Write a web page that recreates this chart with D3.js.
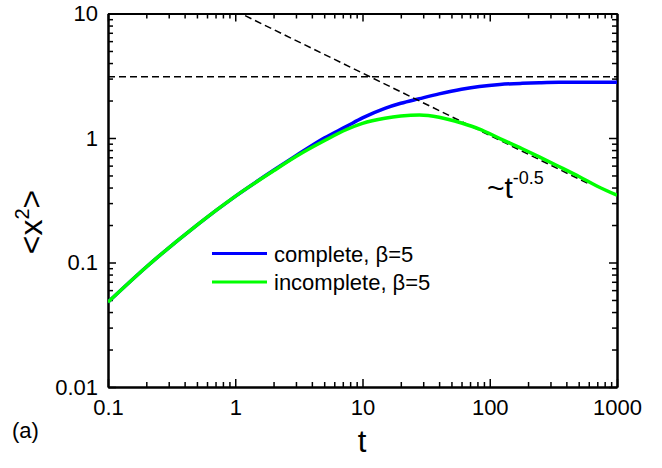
<!DOCTYPE html>
<html>
<head>
<meta charset="utf-8">
<script src="https://cdn.jsdelivr.net/npm/d3@7"></script>
<style>
  body { margin: 0; background: #fff; }
  svg { font-family: "Liberation Sans", Arial, sans-serif; }
</style>
</head>
<body>
<svg id="svg1"></svg>
<script>
    // Data
    const tValues = [0.1, 0.2, 0.5, 1, 2, 3, 5, 7.5, 10, 15, 20, 28, 40, 60, 83, 120, 180, 245, 350, 507, 700, 1000];
    const complete = [0.048, 0.092, 0.2, 0.34, 0.55, 0.72, 1.0, 1.24, 1.45, 1.73, 1.9, 2.07, 2.26, 2.46, 2.59, 2.69, 2.75, 2.78, 2.8, 2.8, 2.81, 2.81];
    const incomplete = [0.048, 0.092, 0.2, 0.34, 0.545, 0.71, 0.95, 1.17, 1.31, 1.44, 1.5, 1.53, 1.47, 1.32, 1.18, 0.99, 0.82, 0.706, 0.59, 0.488, 0.41, 0.347];
    const seriesNames = ["complete, \u03b2=5", "incomplete, \u03b2=5"];
    const xTicks = [0.1, 1, 10, 100, 1000];
    const yTicks = [0.01, 0.1, 1, 10];
    const plateau = 3.1;          // horizontal dashed guide
    const powerLaw = [10.5, -0.5]; // ~ c * t^-0.5 guide
    const guideT = [1, 600];

    const W = 662, H = 468;
    const margin = { top: 13.5, right: 45, bottom: 81, left: 108 },
          width = W - margin.left - margin.right,
          height = H - margin.top - margin.bottom;

    const svg = d3.select("#svg1")
      .attr("width", W)
      .attr("height", H)
      .append("g")
      .attr("transform", `translate(${margin.left},${margin.top})`);

    const x = d3.scaleLog().domain([0.1, 1000]).range([0, width]);
    const y = d3.scaleLog().domain([0.01, 10]).range([height, 0]);

    svg.append("clipPath").attr("id", "clip")
      .append("rect").attr("width", width).attr("height", height);

    const minorX = x.ticks().filter(v => !xTicks.some(m => Math.abs(m - v) < 1e-9));
    const minorY = y.ticks().filter(v => !yTicks.some(m => Math.abs(m - v) < 1e-9));

    // axes on all four sides, ticks pointing in
    function styleAxis(g) {
      g.select(".domain").attr("stroke-width", 2);
      g.selectAll(".tick line").attr("stroke-width", 1.5);
      g.selectAll("text").attr("font-size", 22).attr("fill", "#000");
    }
    const fmt = d => d3.format("~g")(d);

    svg.append("g").attr("transform", `translate(0,${height})`)
      .call(d3.axisBottom(x).tickValues(xTicks).tickFormat(fmt).tickSizeInner(-8).tickSizeOuter(0).tickPadding(12))
      .call(styleAxis);
    svg.append("g").attr("transform", `translate(0,${height})`)
      .call(d3.axisBottom(x).tickValues(minorX).tickFormat("").tickSizeInner(-5).tickSizeOuter(0))
      .call(styleAxis);
    svg.append("g")
      .call(d3.axisTop(x).tickValues(xTicks).tickFormat("").tickSizeInner(-8).tickSizeOuter(0))
      .call(styleAxis);
    svg.append("g")
      .call(d3.axisTop(x).tickValues(minorX).tickFormat("").tickSizeInner(-5).tickSizeOuter(0))
      .call(styleAxis);

    svg.append("g")
      .call(d3.axisLeft(y).tickValues(yTicks).tickFormat(fmt).tickSizeInner(-8).tickSizeOuter(0).tickPadding(10))
      .call(styleAxis);
    svg.append("g")
      .call(d3.axisLeft(y).tickValues(minorY).tickFormat("").tickSizeInner(-5).tickSizeOuter(0))
      .call(styleAxis);
    svg.append("g").attr("transform", `translate(${width},0)`)
      .call(d3.axisRight(y).tickValues(yTicks).tickFormat("").tickSizeInner(-8).tickSizeOuter(0))
      .call(styleAxis);
    svg.append("g").attr("transform", `translate(${width},0)`)
      .call(d3.axisRight(y).tickValues(minorY).tickFormat("").tickSizeInner(-5).tickSizeOuter(0))
      .call(styleAxis);

    // Define the line
    const line = d3.line()
      .x(d => x(d[0]))
      .y(d => y(d[1]))
      .curve(d3.curveMonotoneX);

    const plot = svg.append("g").attr("clip-path", "url(#clip)");

    plot.append("path")
      .datum(tValues.map((t, i) => [t, complete[i]]))
      .attr("fill", "none").attr("stroke", "#0000ff").attr("stroke-width", 3.5)
      .attr("d", line);

    // dashed guides
    plot.append("path")
      .datum(x.domain().map(t => [t, plateau]))
      .attr("fill", "none").attr("stroke", "#000").attr("stroke-width", 1.5)
      .attr("stroke-dasharray", "7,4")
      .attr("d", d3.line().x(d => x(d[0])).y(d => y(d[1])));
    plot.append("path")
      .datum(guideT.map(t => [t, powerLaw[0] * Math.pow(t, powerLaw[1])]))
      .attr("fill", "none").attr("stroke", "#000").attr("stroke-width", 1.5)
      .attr("stroke-dasharray", "7,4")
      .attr("d", d3.line().x(d => x(d[0])).y(d => y(d[1])));

    plot.append("path")
      .datum(tValues.map((t, i) => [t, incomplete[i]]))
      .attr("fill", "none").attr("stroke", "#00ff00").attr("stroke-width", 3.5)
      .attr("d", line);

    // legend
    const legend = svg.append("g").attr("transform", "translate(104,240)");
    [["#0000ff", seriesNames[0]], ["#00ff00", seriesNames[1]]].forEach((s, i) => {
      legend.append("line")
        .attr("x1", 0).attr("x2", 55).attr("y1", i * 28.4).attr("y2", i * 28.4)
        .attr("stroke", s[0]).attr("stroke-width", 3);
      legend.append("text")
        .attr("x", 62).attr("y", i * 28.4 + 8)
        .attr("font-size", 22)
        .text(s[1]);
    });

    // power-law annotation
    const ann = svg.append("text").attr("x", 379).attr("y", 184).attr("font-size", 30);
    ann.append("tspan").text("~t");
    ann.append("tspan").attr("dy", -14).attr("font-size", 18).text("-0.5");

    // axis titles
    svg.append("text")
      .attr("x", 362 - margin.left).attr("y", 452 - margin.top)
      .attr("text-anchor", "middle").attr("font-size", 31)
      .text("t");
    const yl = svg.append("text")
      .attr("transform", `translate(${42 - margin.left},${222 - margin.top}) rotate(-90)`)
      .attr("text-anchor", "middle").attr("font-size", 32);
    yl.append("tspan").text("<x");
    yl.append("tspan").attr("dy", -13).attr("font-size", 20).text("2");
    yl.append("tspan").attr("dy", 13).text(">");

    svg.append("text")
      .attr("x", 12 - margin.left).attr("y", 438 - margin.top)
      .attr("font-size", 22)
      .text("(a)");
</script>
</body>
</html>
